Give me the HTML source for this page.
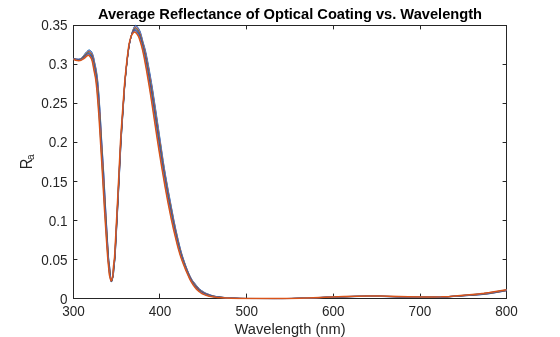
<!DOCTYPE html>
<html><head><meta charset="utf-8"><style>
html,body{margin:0;padding:0;background:#fff;width:560px;height:337px;overflow:hidden}
svg{position:absolute;left:0;top:0;will-change:transform}
text{font-family:"Liberation Sans",sans-serif}
</style></head><body>
<svg width="560" height="337" viewBox="0 0 560 337">
<rect x="0" y="0" width="560" height="337" fill="#fff"/>
<g fill="none" stroke="#262626" stroke-width="1">
<rect x="73.5" y="25.5" width="433" height="273"/>
<line x1="159.5" y1="298" x2="159.5" y2="293.6"/><line x1="159.5" y1="25" x2="159.5" y2="29.4"/><line x1="246.5" y1="298" x2="246.5" y2="293.6"/><line x1="246.5" y1="25" x2="246.5" y2="29.4"/><line x1="333.5" y1="298" x2="333.5" y2="293.6"/><line x1="333.5" y1="25" x2="333.5" y2="29.4"/><line x1="420.5" y1="298" x2="420.5" y2="293.6"/><line x1="420.5" y1="25" x2="420.5" y2="29.4"/><line x1="73" y1="259.5" x2="77.4" y2="259.5"/><line x1="507" y1="259.5" x2="502.6" y2="259.5"/><line x1="73" y1="220.5" x2="77.4" y2="220.5"/><line x1="507" y1="220.5" x2="502.6" y2="220.5"/><line x1="73" y1="181.5" x2="77.4" y2="181.5"/><line x1="507" y1="181.5" x2="502.6" y2="181.5"/><line x1="73" y1="142.5" x2="77.4" y2="142.5"/><line x1="507" y1="142.5" x2="502.6" y2="142.5"/><line x1="73" y1="103.5" x2="77.4" y2="103.5"/><line x1="507" y1="103.5" x2="502.6" y2="103.5"/><line x1="73" y1="64.5" x2="77.4" y2="64.5"/><line x1="507" y1="64.5" x2="502.6" y2="64.5"/>
</g>
<g clip-path="url(#clip)"><g fill="none" stroke-width="0.9" stroke-linejoin="round"><path d="M73.50,58.30 76.02,58.92 78.00,59.16 78.64,59.15 79.24,59.05 79.94,58.84 80.58,58.57 81.46,58.03 82.12,57.41 85.62,52.81 86.90,51.39 88.00,50.45 88.70,50.02 89.30,49.90 89.90,50.10 90.34,50.40 90.82,50.85 91.82,52.13 92.50,53.51 93.18,55.45 93.74,57.44 94.22,60.10 95.90,67.88 96.50,71.16 97.36,77.04 98.14,84.53 98.98,95.13 100.10,111.53 101.70,140.00 103.64,170.69 106.06,215.51 108.38,254.81 108.86,260.58 109.68,266.76 110.30,274.08 110.88,279.79 111.12,281.41 111.24,281.81 111.36,281.99 111.52,281.93 111.72,281.60 112.22,280.15 112.88,277.51 113.38,274.96 113.68,272.38 114.18,266.19 114.82,260.87 115.12,257.12 115.64,248.39 118.08,202.32 121.20,140.00 124.44,90.97 125.00,83.50 125.60,76.75 126.68,66.06 127.82,56.01 128.74,49.03 129.56,44.17 131.36,35.40 131.94,33.01 132.48,31.16 133.62,28.19 134.34,26.64 134.66,26.12 135.00,25.72 135.34,25.47 135.66,25.40 136.14,25.53 136.66,25.90 137.26,26.53 137.90,27.37 138.72,28.63 139.58,30.15 140.46,32.23 141.22,34.68 142.90,41.28 145.08,48.88 145.94,52.50 147.00,57.56 148.32,64.43 149.94,73.37 151.52,82.46 152.76,90.06 156.56,115.07 163.20,160.47 164.46,168.53 165.80,176.50 168.60,192.00 173.92,220.12 175.90,229.55 178.08,239.23 179.50,245.19 180.66,249.69 181.76,253.61 182.80,257.00 184.22,261.28 185.76,265.63 187.34,269.79 188.80,273.32 190.10,276.17 191.68,279.12 192.54,280.43 193.48,281.68 198.44,287.82 199.74,289.08 201.40,290.37 203.70,291.92 205.66,293.03 207.08,293.65 211.16,295.19 213.08,295.78 215.28,296.28 217.70,296.70 220.58,297.07 225.28,297.54 230.36,297.96 234.82,298.24 238.94,298.41 246.72,298.53 274.32,298.60 288.26,298.57 298.62,298.40 307.82,298.14 326.02,297.43 341.92,296.94 354.90,296.60 365.96,296.42 372.68,296.40 379.44,296.47 404.96,297.03 424.90,297.29 434.20,297.30 441.80,297.14 447.16,296.92 453.34,296.56 477.14,295.01 483.02,294.53 487.02,294.07 491.46,293.43 506.50,290.80" stroke="#0072BD"/><path d="M73.50,58.40 75.98,59.04 77.96,59.30 78.60,59.29 79.20,59.20 79.90,59.01 80.56,58.74 81.48,58.20 82.16,57.57 85.74,53.05 86.94,51.77 87.96,50.91 88.62,50.53 89.22,50.42 89.82,50.63 90.26,50.93 90.74,51.39 91.70,52.63 92.30,53.81 92.92,55.53 93.72,58.41 94.18,60.95 95.56,67.35 96.26,71.04 97.20,77.39 98.02,85.07 98.90,95.99 100.00,112.12 101.70,141.95 103.60,172.26 106.06,217.18 108.34,255.17 108.84,261.26 109.64,267.26 110.30,274.52 110.84,279.49 111.10,281.24 111.22,281.64 111.36,281.83 111.52,281.75 111.72,281.41 112.20,280.02 112.82,277.56 113.22,275.42 113.64,272.08 114.12,266.34 114.76,260.75 115.08,256.81 115.60,248.09 117.98,203.18 121.14,140.18 124.42,90.74 124.96,83.57 125.58,76.60 126.68,65.74 127.80,55.89 128.74,48.76 129.54,44.05 131.28,35.79 131.88,33.39 132.44,31.53 133.54,28.76 134.28,27.23 134.60,26.73 134.94,26.35 135.28,26.12 135.60,26.04 136.08,26.18 136.66,26.60 137.28,27.27 137.96,28.18 138.72,29.39 139.50,30.83 139.96,31.83 140.46,33.14 141.32,35.95 142.90,42.21 144.94,49.55 145.84,53.37 146.82,58.07 148.14,64.94 149.66,73.35 151.36,83.18 152.66,91.16 156.40,115.76 163.06,160.95 164.38,169.38 165.72,177.34 168.70,193.78 173.72,220.11 175.80,229.99 177.86,239.07 179.28,245.01 180.42,249.43 181.50,253.29 182.54,256.70 183.96,260.98 185.60,265.60 187.20,269.80 188.66,273.33 190.08,276.45 190.94,278.14 191.74,279.54 192.62,280.87 193.64,282.22 198.38,288.04 199.68,289.29 201.34,290.58 203.60,292.09 205.66,293.22 207.14,293.85 211.10,295.30 213.06,295.88 215.34,296.37 217.78,296.78 220.78,297.14 225.56,297.60 230.64,298.00 235.12,298.26 239.32,298.42 246.72,298.52 276.44,298.60 288.72,298.55 298.86,298.38 308.92,298.08 327.32,297.36 341.92,296.91 354.90,296.57 365.96,296.39 372.68,296.37 379.44,296.43 404.96,297.00 424.90,297.26 434.20,297.28 441.80,297.12 447.16,296.88 453.34,296.52 476.80,294.94 482.70,294.45 487.02,293.96 491.12,293.37 506.50,290.70" stroke="#7E2F8E"/><path d="M73.50,58.50 75.96,59.16 77.92,59.44 78.58,59.44 79.18,59.35 79.86,59.18 80.54,58.91 81.46,58.39 82.16,57.78 86.00,53.14 86.64,52.46 87.46,51.74 88.16,51.22 88.70,50.98 89.22,50.95 89.74,51.15 90.18,51.46 90.66,51.92 91.60,53.15 92.18,54.27 92.74,55.83 93.70,59.38 94.20,62.09 95.56,68.45 96.14,71.58 97.06,77.86 97.86,85.19 98.68,94.98 99.58,107.82 100.42,121.05 101.74,144.57 103.52,173.16 106.08,219.20 107.74,247.04 108.30,255.56 108.86,262.32 109.66,268.33 110.38,275.67 110.96,280.43 111.14,281.30 111.34,281.66 111.50,281.60 111.68,281.31 112.14,280.03 112.74,277.70 113.12,275.69 113.66,271.16 114.14,265.66 114.76,260.05 115.04,256.52 115.56,247.79 117.88,204.04 121.10,140.01 124.38,90.80 124.92,83.63 125.54,76.66 126.62,65.99 127.76,55.94 128.74,48.48 129.50,44.03 131.22,36.06 131.82,33.74 132.42,31.82 133.46,29.31 134.24,27.77 134.56,27.31 134.90,26.95 135.24,26.74 135.56,26.69 136.02,26.82 136.60,27.24 137.28,27.98 137.98,28.93 138.72,30.15 139.48,31.62 140.46,34.04 141.38,37.08 142.90,43.13 144.80,50.19 145.68,53.95 146.64,58.56 147.94,65.33 149.36,73.19 152.44,91.50 156.18,116.06 162.90,161.32 164.30,170.23 165.72,178.65 168.80,195.56 173.48,219.92 175.78,230.79 179.06,244.84 180.18,249.18 181.32,253.26 182.40,256.79 183.70,260.69 185.32,265.25 186.92,269.46 188.50,273.30 189.96,276.53 190.92,278.42 191.74,279.85 192.70,281.30 193.78,282.74 197.30,287.08 198.30,288.24 199.62,289.50 201.24,290.76 203.50,292.25 205.64,293.40 207.24,294.07 211.04,295.41 213.02,295.97 215.34,296.45 217.92,296.86 221.00,297.21 225.82,297.66 230.94,298.03 235.42,298.28 239.68,298.43 247.12,298.52 278.50,298.59 289.58,298.54 299.10,298.36 308.92,298.07 326.90,297.35 341.90,296.88 354.90,296.53 365.96,296.35 372.68,296.33 379.44,296.40 404.96,296.97 424.90,297.24 434.20,297.25 441.78,297.09 447.16,296.85 453.76,296.45 476.48,294.87 482.68,294.35 487.02,293.85 491.12,293.26 506.50,290.60" stroke="#4DBEEE"/><path d="M73.50,58.60 75.90,59.27 77.86,59.57 78.50,59.58 79.12,59.51 79.82,59.34 80.50,59.09 81.46,58.57 82.20,57.95 86.08,53.44 87.54,52.10 88.16,51.66 88.66,51.46 89.16,51.46 89.66,51.66 90.58,52.45 91.44,53.56 92.04,54.67 92.60,56.21 93.68,60.35 94.20,63.13 95.46,69.05 96.00,71.97 96.94,78.45 97.74,85.75 98.58,95.61 99.40,107.14 100.30,121.18 101.66,145.19 103.54,175.76 106.28,224.25 108.22,255.43 109.00,264.47 109.66,269.21 110.30,275.38 110.84,279.63 111.08,281.00 111.20,281.34 111.32,281.49 111.48,281.44 111.66,281.16 112.10,279.96 112.72,277.58 113.06,275.76 113.66,270.45 114.12,265.39 114.64,260.62 115.00,256.25 115.52,247.51 117.80,204.52 121.06,139.82 124.34,90.84 124.88,83.69 125.50,76.71 126.58,66.04 127.74,55.82 128.74,48.21 129.48,43.90 131.14,36.40 131.74,34.15 132.38,32.17 133.36,29.89 134.16,28.37 134.50,27.90 134.84,27.57 135.18,27.37 135.50,27.32 136.02,27.49 136.60,27.94 137.28,28.69 138.04,29.75 138.70,30.87 139.40,32.28 140.46,34.95 141.48,38.36 144.58,50.49 145.48,54.33 146.44,58.93 147.74,65.71 149.18,73.69 152.26,92.08 154.28,105.17 162.68,161.31 164.20,170.97 165.64,179.49 168.80,196.80 173.24,219.76 175.68,231.24 178.82,244.61 179.98,249.10 181.14,253.24 182.28,256.95 183.56,260.76 185.18,265.29 186.90,269.77 188.50,273.64 189.96,276.85 190.92,278.74 191.82,280.30 192.84,281.82 194.02,283.38 197.08,287.14 198.24,288.46 199.58,289.74 201.18,290.98 203.38,292.41 205.60,293.57 207.30,294.26 210.94,295.52 212.96,296.07 215.34,296.54 217.98,296.93 221.20,297.28 226.10,297.71 231.24,298.07 235.70,298.30 240.06,298.44 247.52,298.52 280.06,298.58 290.00,298.52 299.10,298.35 308.92,298.05 326.90,297.32 341.90,296.85 354.90,296.50 365.96,296.32 372.68,296.29 379.44,296.36 404.96,296.94 424.92,297.21 434.20,297.23 441.78,297.06 447.16,296.81 453.78,296.40 476.48,294.78 482.68,294.25 487.02,293.74 491.12,293.15 506.50,290.50" stroke="#D95319"/><path d="M73.50,58.70 75.86,59.39 77.80,59.70 78.46,59.72 79.06,59.66 79.78,59.50 80.46,59.27 81.46,58.75 82.24,58.13 84.36,55.82 86.14,53.78 87.60,52.47 88.16,52.10 88.62,51.95 89.10,51.96 89.58,52.17 90.50,52.97 91.32,54.03 91.96,55.21 92.50,56.69 93.00,58.51 93.66,61.31 94.18,64.08 95.38,69.74 95.90,72.56 96.82,78.97 97.62,86.29 98.50,96.51 99.28,107.34 100.32,123.66 101.66,147.14 103.44,176.32 106.14,223.54 108.14,255.36 108.72,262.53 109.04,265.71 109.66,270.09 110.30,275.82 110.82,279.57 111.06,280.85 111.18,281.18 111.30,281.33 111.44,281.30 111.62,281.05 112.08,279.83 112.70,277.46 113.02,275.74 114.58,260.62 114.96,256.00 115.46,247.60 117.74,204.62 120.40,151.05 121.00,139.96 121.66,129.53 124.30,90.88 124.84,83.74 125.46,76.76 126.56,65.91 127.70,55.86 128.72,48.07 129.44,43.87 131.08,36.63 131.68,34.46 132.32,32.56 133.20,30.56 134.08,28.95 134.42,28.50 134.74,28.20 135.08,28.01 135.40,27.95 135.90,28.09 136.52,28.56 137.22,29.33 137.98,30.38 138.60,31.44 139.24,32.74 139.82,34.10 140.40,35.68 141.54,39.49 144.24,50.25 145.24,54.50 146.22,59.19 148.90,73.61 151.94,91.78 153.90,104.40 162.38,160.81 164.06,171.46 165.62,180.69 168.78,197.93 172.94,219.32 175.56,231.60 178.56,244.32 179.72,248.81 180.90,253.02 182.04,256.74 183.30,260.50 185.04,265.33 186.76,269.79 188.38,273.70 189.94,277.13 190.92,279.06 191.84,280.65 192.94,282.29 194.22,283.98 196.84,287.18 198.18,288.69 199.52,289.95 201.12,291.19 203.26,292.57 205.50,293.72 207.30,294.44 210.76,295.60 212.76,296.13 215.10,296.58 217.86,296.98 221.20,297.33 226.10,297.74 231.24,298.08 235.70,298.31 240.06,298.44 247.54,298.52 281.08,298.57 290.60,298.51 299.10,298.34 308.92,298.03 326.90,297.29 341.26,296.83 354.90,296.46 365.96,296.28 372.68,296.26 379.44,296.33 404.96,296.91 424.90,297.19 433.72,297.21 441.36,297.05 447.16,296.78 453.76,296.36 476.14,294.72 482.36,294.17 486.68,293.68 491.12,293.04 506.50,290.40" stroke="#A2142F"/><path d="M73.50,58.80 75.82,59.50 77.74,59.84 79.00,59.81 80.40,59.45 81.46,58.93 82.28,58.30 84.34,56.19 86.20,54.11 87.64,52.87 88.14,52.56 88.58,52.42 89.04,52.46 89.50,52.67 90.42,53.49 91.22,54.53 91.88,55.74 92.40,57.15 92.90,59.00 93.62,62.18 95.80,73.12 96.68,79.28 97.50,86.79 98.38,96.92 99.20,108.14 100.46,128.15 105.84,220.23 108.08,255.60 108.76,263.83 109.10,267.12 109.68,271.12 110.42,277.08 110.94,280.31 111.10,280.90 111.28,281.17 111.42,281.15 111.60,280.90 112.06,279.70 112.68,277.34 113.00,275.61 114.52,260.66 114.90,256.06 115.40,247.71 117.68,204.73 120.34,151.15 120.94,140.08 121.62,129.36 124.26,90.90 124.82,83.55 125.44,76.60 126.52,65.96 127.68,55.74 128.72,47.80 129.42,43.73 131.00,36.91 131.60,34.82 132.26,32.94 133.04,31.20 134.02,29.49 134.66,28.80 135.00,28.62 135.34,28.57 135.86,28.73 136.48,29.21 137.20,30.02 137.98,31.10 138.58,32.15 139.18,33.41 140.38,36.52 141.56,40.48 143.80,49.53 144.96,54.47 146.02,59.53 148.70,73.97 151.60,91.35 153.66,104.56 161.96,159.57 163.90,171.84 165.56,181.65 168.76,199.07 172.70,219.21 175.36,231.62 178.30,244.05 179.50,248.68 180.64,252.75 181.76,256.42 182.94,259.96 184.66,264.74 186.46,269.42 188.22,273.67 189.82,277.21 190.86,279.27 191.82,280.93 193.00,282.70 194.34,284.48 196.62,287.25 198.08,288.87 199.48,290.18 201.06,291.40 203.12,292.72 205.38,293.86 207.26,294.60 210.56,295.67 212.58,296.20 214.82,296.62 217.78,297.04 221.20,297.38 231.24,298.10 235.72,298.31 240.08,298.44 247.94,298.51 282.58,298.56 291.20,298.49 299.12,298.32 308.92,298.01 326.88,297.27 341.26,296.80 354.90,296.43 365.94,296.24 372.68,296.22 379.44,296.29 404.96,296.89 424.90,297.16 433.72,297.18 441.36,297.02 447.16,296.75 453.78,296.32 475.82,294.66 482.36,294.07 486.68,293.57 491.12,292.93 506.50,290.30" stroke="#77AC30"/><path d="M73.50,58.90 75.78,59.62 77.68,59.97 78.96,59.96 80.36,59.62 81.46,59.11 82.36,58.45 84.32,56.55 86.24,54.47 87.66,53.28 88.14,53.00 88.54,52.90 88.96,52.94 89.42,53.17 90.34,54.01 91.16,55.08 91.82,56.30 92.32,57.66 92.84,59.62 93.54,62.84 95.70,73.67 96.54,79.54 97.38,87.24 98.26,97.33 99.12,108.94 100.50,130.96 105.56,217.36 108.02,255.88 108.80,265.13 109.14,268.36 110.42,277.44 110.92,280.23 111.08,280.77 111.26,281.02 111.42,280.98 111.60,280.72 112.04,279.57 112.62,277.39 112.96,275.62 113.44,270.23 114.46,260.74 114.86,255.85 115.34,247.83 117.66,204.06 120.26,151.63 120.88,140.18 121.56,129.49 124.20,91.20 124.76,83.83 125.40,76.64 126.48,66.01 127.64,55.79 128.70,47.66 129.38,43.69 130.92,37.18 131.54,35.09 132.20,33.30 132.90,31.77 133.92,30.06 134.26,29.65 134.58,29.38 134.90,29.23 135.24,29.18 135.78,29.35 136.40,29.83 137.12,30.63 137.90,31.70 138.46,32.67 139.00,33.79 140.18,36.84 141.12,39.78 142.06,43.35 144.32,52.80 145.76,59.55 148.52,74.44 151.24,90.77 153.44,104.85 158.80,140.55 161.44,157.73 163.66,171.74 165.48,182.50 168.66,199.79 172.38,218.72 175.24,232.00 178.08,243.95 179.28,248.57 180.42,252.64 181.60,256.48 182.80,260.06 184.52,264.81 186.34,269.50 188.20,273.97 189.82,277.53 190.90,279.66 191.90,281.37 193.16,283.25 194.56,285.11 196.52,287.47 198.02,289.11 199.42,290.40 201.02,291.63 203.00,292.88 205.22,293.98 207.24,294.77 210.38,295.76 212.38,296.27 214.54,296.66 217.70,297.10 221.20,297.43 231.54,298.13 236.00,298.33 240.44,298.44 248.34,298.51 283.58,298.55 291.50,298.47 299.10,298.31 308.92,297.99 326.88,297.24 341.26,296.77 354.90,296.39 365.94,296.21 372.68,296.18 379.44,296.25 404.96,296.86 424.90,297.14 433.72,297.16 441.36,296.99 447.16,296.71 453.78,296.27 475.50,294.59 482.04,294.00 486.34,293.50 490.78,292.87 506.50,290.20" stroke="#0072BD"/><path d="M73.50,59.00 75.76,59.74 77.62,60.10 78.92,60.11 80.32,59.79 81.46,59.29 82.44,58.60 84.32,56.89 86.28,54.84 87.70,53.68 88.14,53.44 88.52,53.36 88.92,53.43 89.34,53.65 90.22,54.48 91.12,55.65 91.76,56.86 92.28,58.28 93.06,61.51 95.64,74.44 96.44,80.06 97.28,87.86 98.14,97.73 99.06,110.02 100.54,133.76 105.26,214.26 106.72,237.65 107.96,256.19 108.86,266.66 109.20,269.76 110.40,277.69 110.90,280.16 111.06,280.65 111.22,280.87 111.38,280.85 111.56,280.61 112.00,279.50 112.60,277.27 112.94,275.51 113.14,273.67 113.44,269.51 114.42,260.65 114.82,255.68 115.30,247.60 117.64,203.40 120.22,151.30 120.82,140.26 121.50,129.60 124.16,91.20 124.72,83.86 125.34,76.89 126.42,66.25 127.58,56.00 128.68,47.53 129.34,43.65 130.80,37.56 131.42,35.52 132.04,33.88 132.80,32.25 133.78,30.67 134.46,29.98 134.76,29.83 135.10,29.78 135.66,29.94 136.26,30.38 136.96,31.14 137.76,32.21 138.30,33.11 138.80,34.12 139.90,36.92 141.00,40.28 141.98,43.93 143.98,52.39 145.48,59.44 148.22,74.22 150.62,88.55 153.28,105.54 160.64,154.16 163.36,171.28 165.46,183.70 168.60,200.72 172.16,218.75 175.10,232.29 177.84,243.79 179.06,248.48 180.24,252.67 181.38,256.37 182.66,260.17 184.36,264.83 186.28,269.74 188.08,274.03 189.82,277.86 190.90,279.98 191.92,281.72 193.26,283.73 194.72,285.67 196.42,287.70 197.96,289.34 199.38,290.63 200.96,291.84 202.84,293.03 204.94,294.06 207.08,294.89 210.12,295.83 212.20,296.35 214.26,296.71 217.62,297.15 221.18,297.48 231.54,298.14 240.44,298.44 248.74,298.51 284.54,298.54 292.08,298.46 299.10,298.29 308.92,297.97 326.88,297.22 341.26,296.74 354.90,296.36 365.94,296.17 372.68,296.15 379.44,296.22 404.96,296.83 424.90,297.11 433.72,297.13 441.34,296.96 447.16,296.68 454.20,296.20 475.16,294.54 481.72,293.93 486.34,293.39 490.78,292.76 506.50,290.10" stroke="#7E2F8E"/><path d="M73.50,59.10 75.72,59.85 77.56,60.23 78.86,60.26 80.24,59.98 81.48,59.46 82.56,58.74 84.32,57.23 86.32,55.20 87.72,54.09 88.14,53.88 88.50,53.83 88.88,53.91 89.30,54.16 90.16,55.00 91.08,56.22 91.72,57.45 92.22,58.83 92.92,61.74 95.58,75.20 96.36,80.71 97.18,88.43 98.06,98.61 99.02,111.40 100.62,137.23 105.12,213.87 106.70,238.87 107.90,256.54 108.90,267.97 109.24,271.01 110.38,277.96 110.86,280.06 111.02,280.51 111.18,280.73 111.34,280.71 111.52,280.49 111.96,279.42 112.54,277.32 112.92,275.40 113.12,273.56 113.44,268.79 114.30,261.40 114.76,255.83 115.24,247.76 117.62,202.74 120.16,151.35 120.74,140.65 121.44,129.69 124.12,91.19 124.68,83.88 125.30,76.93 126.38,66.30 127.54,56.04 128.68,47.26 129.30,43.60 130.66,37.98 131.24,36.08 131.82,34.56 132.68,32.75 133.60,31.30 133.98,30.86 134.32,30.57 134.64,30.41 134.98,30.36 135.54,30.52 136.14,30.95 136.86,31.72 137.64,32.76 138.14,33.55 138.64,34.53 139.64,37.04 140.92,40.93 141.94,44.66 143.64,51.91 145.18,59.20 147.74,72.97 150.14,87.17 153.20,106.76 157.10,132.79 160.06,152.06 163.06,170.85 165.38,184.56 168.48,201.34 171.92,218.70 174.88,232.25 177.60,243.64 178.82,248.32 180.06,252.72 181.20,256.40 182.50,260.24 184.20,264.86 186.12,269.73 188.06,274.33 189.80,278.14 190.90,280.29 191.96,282.10 193.40,284.26 194.88,286.22 196.42,288.04 197.88,289.56 199.36,290.88 200.94,292.09 202.72,293.20 204.70,294.15 206.98,295.04 209.88,295.92 211.98,296.42 213.92,296.76 217.48,297.20 220.98,297.51 231.26,298.15 240.46,298.44 271.16,298.55 285.50,298.52 293.72,298.41 301.62,298.20 326.90,297.19 346.62,296.55 356.98,296.28 365.94,296.13 372.68,296.11 379.44,296.18 404.96,296.80 424.90,297.09 433.72,297.11 441.34,296.93 447.16,296.64 454.20,296.16 474.84,294.48 481.70,293.83 486.34,293.28 490.78,292.65 506.50,290.00" stroke="#0072BD"/><path d="M73.50,59.20 75.68,59.96 77.50,60.36 78.80,60.40 80.20,60.14 81.54,59.61 82.78,58.81 84.34,57.55 86.32,55.61 87.72,54.52 88.12,54.33 88.46,54.29 88.82,54.38 89.20,54.61 90.04,55.45 91.04,56.79 91.66,58.00 92.18,59.44 92.82,62.12 94.02,68.50 95.52,75.95 96.30,81.50 97.10,89.16 97.98,99.47 99.00,113.07 100.80,142.36 104.94,212.88 106.64,239.49 107.82,256.66 108.92,269.06 109.26,272.11 110.34,278.17 110.82,280.00 110.98,280.40 111.14,280.59 111.30,280.59 111.48,280.38 111.94,279.29 112.52,277.20 112.90,275.30 113.12,273.20 113.46,267.86 114.26,261.33 114.70,256.01 115.16,248.32 117.62,201.70 120.66,141.02 121.38,129.77 124.06,91.46 124.64,83.89 125.24,77.17 126.32,66.53 127.48,56.25 128.66,47.12 129.28,43.45 130.56,38.24 131.14,36.38 131.70,34.95 132.60,33.16 133.46,31.86 134.18,31.14 134.50,30.98 134.84,30.93 135.36,31.06 135.92,31.43 136.58,32.09 137.28,32.97 137.88,33.84 138.36,34.69 139.34,37.04 140.84,41.57 141.84,45.17 143.30,51.37 144.78,58.41 147.18,71.25 149.76,86.38 153.12,107.97 156.94,133.49 159.76,151.78 162.70,170.09 165.28,185.30 168.28,201.55 171.62,218.39 174.46,231.34 177.36,243.51 178.62,248.33 179.84,252.64 181.06,256.57 182.34,260.32 184.04,264.90 185.96,269.73 187.92,274.36 189.76,278.38 190.86,280.54 191.94,282.38 193.44,284.65 194.94,286.66 196.32,288.28 197.76,289.75 199.32,291.12 200.90,292.32 202.58,293.37 204.38,294.23 206.82,295.16 209.62,296.00 211.72,296.49 213.66,296.82 217.34,297.26 220.78,297.55 231.54,298.17 240.82,298.44 272.20,298.54 285.98,298.51 293.74,298.40 301.62,298.18 326.88,297.16 345.94,296.53 356.30,296.26 365.28,296.10 372.00,296.07 378.78,296.14 404.96,296.77 424.92,297.07 433.74,297.08 441.34,296.91 447.16,296.61 454.20,296.11 474.18,294.45 481.38,293.76 486.34,293.17 490.76,292.54 506.50,289.90" stroke="#7E2F8E"/><path d="M73.50,59.30 75.66,60.08 77.42,60.48 78.72,60.55 80.12,60.32 81.60,59.76 83.08,58.85 84.40,57.84 86.34,55.99 87.74,54.94 88.10,54.78 88.44,54.75 88.78,54.85 89.14,55.08 89.94,55.91 91.00,57.36 91.62,58.58 92.14,60.04 92.76,62.68 93.90,68.94 95.48,76.81 96.20,81.92 97.00,89.64 97.86,99.80 98.96,114.44 101.32,153.14 104.70,210.98 106.56,239.83 107.76,257.08 108.96,270.38 109.30,273.34 109.58,274.99 110.32,278.50 110.78,279.99 110.94,280.32 111.10,280.48 111.26,280.47 111.46,280.24 111.92,279.15 112.48,277.16 112.88,275.21 113.12,272.85 113.46,267.13 114.24,261.06 114.64,256.23 115.10,248.54 117.60,201.04 120.60,141.02 121.32,129.84 124.00,91.71 124.56,84.38 125.14,77.84 126.24,66.95 127.42,56.46 128.64,47.00 129.24,43.39 130.48,38.40 131.02,36.71 131.56,35.36 132.50,33.59 133.32,32.39 134.06,31.68 134.40,31.51 134.70,31.47 135.18,31.59 135.70,31.91 136.30,32.47 136.96,33.25 137.70,34.28 138.14,35.01 139.06,37.07 140.72,42.10 141.68,45.45 142.96,50.79 144.26,56.95 146.68,69.85 149.44,85.95 153.06,109.31 156.86,134.72 159.50,151.77 162.12,168.04 165.20,186.17 168.08,201.76 171.40,218.48 173.62,228.65 175.66,237.42 177.24,243.87 178.50,248.65 179.72,252.92 180.92,256.75 182.18,260.40 183.88,264.95 185.94,270.08 187.92,274.71 189.80,278.79 190.90,280.93 192.00,282.80 193.56,285.16 195.04,287.14 196.28,288.58 197.64,289.94 199.26,291.34 200.84,292.53 202.46,293.54 204.12,294.33 206.72,295.31 209.40,296.09 211.48,296.57 213.40,296.88 217.26,297.32 220.58,297.59 231.26,298.18 240.82,298.44 272.74,298.53 286.90,298.50 294.28,298.38 301.88,298.16 326.88,297.14 345.26,296.52 356.28,296.22 365.28,296.07 372.00,296.04 378.78,296.10 404.96,296.74 424.92,297.04 433.74,297.06 441.34,296.88 447.16,296.58 454.20,296.07 473.84,294.40 481.06,293.69 486.00,293.11 490.44,292.48 506.50,289.80" stroke="#4DBEEE"/><path d="M73.50,59.40 75.62,60.19 77.38,60.61 78.68,60.69 80.08,60.49 80.90,60.24 81.66,59.92 83.46,58.87 84.50,58.10 86.32,56.41 87.74,55.36 88.08,55.22 88.40,55.20 88.72,55.31 89.06,55.53 89.88,56.41 90.98,57.96 91.58,59.16 92.10,60.63 92.70,63.22 93.84,69.69 95.44,77.67 96.16,82.83 96.92,90.28 97.76,100.34 98.94,116.11 101.70,161.50 104.42,208.53 106.34,238.10 107.66,257.00 108.06,261.79 108.56,266.60 109.02,271.90 109.30,274.30 109.58,275.91 110.24,278.64 110.66,279.87 110.84,280.20 111.02,280.38 111.20,280.37 111.40,280.16 111.86,279.13 112.42,277.20 112.86,275.11 113.10,272.78 113.46,266.41 114.20,260.96 114.58,256.49 115.04,248.78 117.60,200.00 120.54,141.01 121.24,130.17 123.98,91.39 124.54,84.13 125.10,77.86 126.18,67.18 127.36,56.67 128.64,46.72 129.20,43.33 130.38,38.61 130.92,36.95 131.44,35.69 132.36,34.06 133.20,32.87 133.92,32.20 134.26,32.04 134.56,32.00 135.02,32.11 135.52,32.42 136.08,32.92 136.70,33.63 137.98,35.45 138.44,36.34 138.88,37.38 140.66,42.81 141.58,45.97 142.72,50.65 143.80,55.73 146.22,68.65 149.20,86.00 151.00,97.50 156.72,135.56 159.12,151.02 161.80,167.61 165.12,187.03 167.98,202.50 171.28,219.06 173.46,228.97 177.02,243.84 178.32,248.77 179.58,253.15 180.80,257.00 182.04,260.56 183.74,265.06 185.80,270.14 187.92,275.05 189.78,279.07 190.86,281.18 192.00,283.11 193.62,285.58 195.10,287.57 196.26,288.90 197.52,290.14 199.20,291.56 200.80,292.76 201.96,293.51 203.00,294.06 204.22,294.58 206.08,295.27 209.24,296.21 212.54,296.87 217.54,297.41 222.54,297.76 230.96,298.18 238.56,298.41 246.74,298.49 275.38,298.53 292.08,298.42 306.72,297.97 326.02,297.14 343.92,296.53 356.98,296.17 367.32,296.01 373.36,296.01 380.14,296.09 408.14,296.77 425.40,297.02 433.72,297.04 441.34,296.85 449.38,296.39 457.66,295.73 478.12,293.90 484.02,293.25 489.40,292.52 506.50,289.70" stroke="#D95319" stroke-width="1.5"/></g></g>
<defs><clipPath id="clip"><rect x="73" y="24" width="434.5" height="275.5"/></clipPath></defs>
<g fill="#262626" font-size="14.1px">
<text transform="translate(73.50,316) scale(0.96,1)" text-anchor="middle">300</text><text transform="translate(160.10,316) scale(0.96,1)" text-anchor="middle">400</text><text transform="translate(246.70,316) scale(0.96,1)" text-anchor="middle">500</text><text transform="translate(333.30,316) scale(0.96,1)" text-anchor="middle">600</text><text transform="translate(419.90,316) scale(0.96,1)" text-anchor="middle">700</text><text transform="translate(506.50,316) scale(0.96,1)" text-anchor="middle">800</text>
<text transform="translate(67.5,303.90) scale(0.96,1)" text-anchor="end">0</text><text transform="translate(67.5,264.90) scale(0.96,1)" text-anchor="end">0.05</text><text transform="translate(67.5,225.90) scale(0.96,1)" text-anchor="end">0.1</text><text transform="translate(67.5,186.90) scale(0.96,1)" text-anchor="end">0.15</text><text transform="translate(67.5,147.00) scale(0.96,1)" text-anchor="end">0.2</text><text transform="translate(67.5,108.00) scale(0.96,1)" text-anchor="end">0.25</text><text transform="translate(67.5,69.00) scale(0.96,1)" text-anchor="end">0.3</text><text transform="translate(67.5,30.00) scale(0.96,1)" text-anchor="end">0.35</text>
</g>
<text x="290" y="334" text-anchor="middle" font-size="14.67px" fill="#262626">Wavelength (nm)</text>
<g transform="translate(32.2,162) rotate(-90)" fill="#262626"><text x="-7.2" y="0" font-size="14.67px" transform="scale(1,1.07)">R</text><text x="1.9" y="1.8" font-size="10.2px">a</text></g>
<text x="290" y="18.5" text-anchor="middle" font-size="14.67px" font-weight="bold" fill="#000">Average Reflectance of Optical Coating vs. Wavelength</text>
</svg>
</body></html>
